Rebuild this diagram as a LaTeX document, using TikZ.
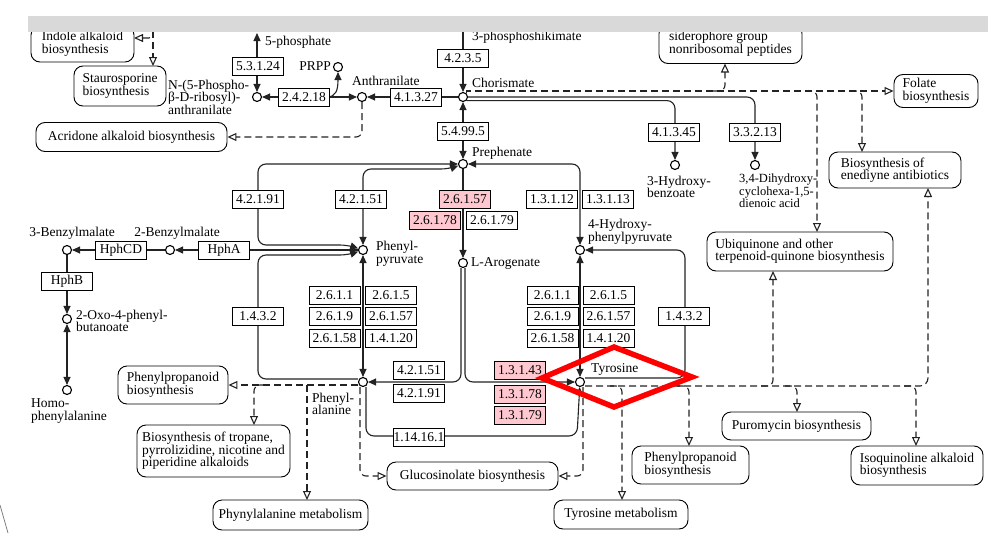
\documentclass[tikz,border=0pt]{standalone}
\usepackage{fontspec}
\setmainfont{Liberation Serif}
\usetikzlibrary{arrows.meta,calc}
\pgfdeclarelayer{bg}
\pgfdeclarelayer{fg}
\pgfsetlayers{bg,main,fg}
\definecolor{kpink}{RGB}{255,200,208}
\definecolor{kline}{RGB}{35,35,35}
\definecolor{kbar}{RGB}{217,217,217}
\newcommand\kfont{\fontsize{13.5}{12.5}\selectfont}
\tikzset{
  fa/.tip={Triangle[length=8pt,width=7pt]},
  oa/.tip={Triangle[length=9pt,width=8pt,fill=white]},
  every node/.style={font=\kfont},
  cpd/.style={circle,draw=black,fill=white,minimum size=9pt,inner sep=0pt,line width=1.1pt},
  enz/.style={draw=black,fill=white,minimum width=51pt,minimum height=18pt,inner sep=0pt,line width=0.9pt},
  enzp/.style={enz,fill=kpink},
  pw/.style={draw=black,fill=white,rounded corners=9pt,align=left,inner sep=0pt,line width=0.9pt},
  lbl/.style={inner sep=0pt,align=left,anchor=west},
  rx/.style={line width=1.1pt,draw=kline},
  dsh/.style={dash pattern=on 7pt off 4pt}
}
\begin{document}
\begin{tikzpicture}[x=1pt,y=-1pt]
\useasboundingbox (0,0) rectangle (988,533);

% ---------- compounds ----------
\node[cpd] (nprib) at (257,97) {};
\node[cpd] (prpp) at (338,67) {};
\node[cpd] (anth) at (362,97) {};
\node[cpd] (chor) at (463,97) {};
\node[cpd] (preph) at (463,164) {};
\node[cpd] (hbz) at (675,165) {};
\node[cpd] (dhc) at (755,165) {};
\node[cpd] (phepyr) at (363,250) {};
\node[cpd] (larog) at (463,263) {};
\node[cpd] (hpp) at (580,250) {};
\node[cpd] (phe) at (363,382) {};
\node[cpd] (tyr) at (580,382) {};
\node[cpd] (bzm2) at (170,250) {};
\node[cpd] (bzm3) at (67,250) {};
\node[cpd] (oxo) at (67,319) {};
\node[cpd] (homo) at (67,390) {};

% ---------- compound names ----------
\node[lbl] (l5p) at (265,42) {5-phosphate};
\node[lbl,anchor=east] (lprpp) at (331,66) {PRPP};
\node[lbl] (lanth) at (352,81) {Anthranilate};
\node[lbl] (lnprib) at (168,97) {N-(5-Phospho-\\β-D-ribosyl)-\\anthranilate};
\node[lbl] (lshik) at (472,37) {3-phosphoshikimate};
\node[lbl] (lchor) at (472,83) {Chorismate};
\node[lbl] (lpreph) at (472,153) {Prephenate};
\node[lbl] (lhbz) at (647,187) {3-Hydroxy-\\benzoate};
\node[lbl,font=\fontsize{12.5}{12.5}\selectfont] (ldhc) at (739,191) {3,4-Dihydroxy-\\cyclohexa-1,5-\\dienoic acid};
\node[lbl] (lphepyr) at (376,254) {Phenyl-\\pyruvate};
\node[lbl] (llarog) at (471,263) {L-Arogenate};
\node[lbl] (lhpp) at (588,232) {4-Hydroxy-\\phenylpyruvate};
\node[lbl,anchor=center] (lbzm3) at (72,233) {3-Benzylmalate};
\node[lbl,anchor=center] (lbzm2) at (177,233) {2-Benzylmalate};
\node[lbl] (loxo) at (76,321) {2-Oxo-4-phenyl-\\butanoate};
\node[lbl] (lhomo) at (31,411) {Homo-\\phenylalanine};
\node[lbl] (lphe) at (312,404) {Phenyl-\\alanine};
\node[lbl] (ltyr) at (591,369) {Tyrosine};

% ---------- enzymes ----------
\node[enz] (e53124) at (258,66) {5.3.1.24};
\node[enz] (e24218) at (304,97) {2.4.2.18};
\node[enz] (e41327) at (416,97) {4.1.3.27};
\node[enz] (e4235) at (463,58) {4.2.3.5};
\node[enz] (e54995) at (463,131) {5.4.99.5};
\node[enz] (e41345) at (674,132) {4.1.3.45};
\node[enz] (e33213) at (755,132) {3.3.2.13};
\node[enz] (e42191a) at (258,199) {4.2.1.91};
\node[enz] (e42151a) at (361,199) {4.2.1.51};
\node[enzp] (e26157) at (465,199) {2.6.1.57};
\node[enzp] (e26178) at (435,220) {2.6.1.78};
\node[enz] (e26179) at (492,220) {2.6.1.79};
\node[enz] (e13112) at (552,199) {1.3.1.12};
\node[enz] (e13113) at (608,199) {1.3.1.13};
\node[enz] (ehphA) at (224,250) {HphA};
\node[enz] (ehphCD) at (121,250) {HphCD};
\node[enz] (ehphB) at (67,281) {HphB};
\node[enz] (e1432a) at (258,316) {1.4.3.2};
\node[enz] (e1432b) at (684,316) {1.4.3.2};
% transaminases, phenylalanine side
\node[enz] (tl11) at (334.5,295) {2.6.1.1};
\node[enz] (tl12) at (391,295) {2.6.1.5};
\node[enz] (tl21) at (334.5,316.5) {2.6.1.9};
\node[enz] (tl22) at (391,316.5) {2.6.1.57};
\node[enz] (tl31) at (334.5,338) {2.6.1.58};
\node[enz] (tl32) at (391,338) {1.4.1.20};
% transaminases, tyrosine side
\node[enz] (tr11) at (552.5,295) {2.6.1.1};
\node[enz] (tr12) at (608.5,295) {2.6.1.5};
\node[enz] (tr21) at (552.5,316.5) {2.6.1.9};
\node[enz] (tr22) at (608.5,316.5) {2.6.1.57};
\node[enz] (tr31) at (552.5,338) {2.6.1.58};
\node[enz] (tr32) at (608.5,338) {1.4.1.20};
\node[enz] (e42151b) at (419,370) {4.2.1.51};
\node[enz] (e42191b) at (419,393) {4.2.1.91};
\node[enzp] (e13143) at (520,370) {1.3.1.43};
\node[enzp] (e13178) at (520,394) {1.3.1.78};
\node[enzp] (e13179) at (520,415) {1.3.1.79};
\node[enz] (e114161) at (419,437) {1.14.16.1};

% ---------- linked pathways ----------
\node[pw,minimum width=103pt,minimum height=36pt] (indole) at (82.5,44) {Indole alkaloid\\biosynthesis};
\node[pw,minimum width=92pt,minimum height=40pt] (stauro) at (120,86) {Staurosporine\\biosynthesis};
\node[pw,minimum width=191pt,minimum height=29pt] (acrid) at (131.5,137) {Acridone alkaloid biosynthesis};
\node[pw,minimum width=143pt,minimum height=39pt] (sidero) at (730.5,44) {siderophore group\\nonribosomal peptides};
\node[pw,minimum width=84pt,minimum height=33pt] (folate) at (936,91) {Folate\\biosynthesis};
\node[pw,minimum width=132pt,minimum height=36pt] (enediyne) at (895,170) {Biosynthesis of\\enediyne antibiotics};
\node[pw,minimum width=186pt,minimum height=39pt] (ubiq) at (800,251.5) {Ubiquinone and other\\terpenoid-quinone biosynthesis};
\node[pw,minimum width=110pt,minimum height=38pt] (ppl) at (173,385) {Phenylpropanoid\\biosynthesis};
\node[pw,minimum width=153pt,minimum height=52pt] (tropane) at (213.5,451) {Biosynthesis of tropane,\\pyrrolizidine, nicotine and\\piperidine alkaloids};
\node[pw,minimum width=155pt,minimum height=30pt] (phemet) at (290.5,515) {Phynylalanine metabolism};
\node[pw,minimum width=171pt,minimum height=28pt] (glucos) at (472.5,476) {Glucosinolate biosynthesis};
\node[pw,minimum width=134pt,minimum height=29pt] (tyrmet) at (621,514.5) {Tyrosine metabolism};
\node[pw,minimum width=117pt,minimum height=38pt] (ppr) at (690.5,465) {Phenylpropanoid\\biosynthesis};
\node[pw,minimum width=149pt,minimum height=28pt] (puro) at (796.5,426) {Puromycin biosynthesis};
\node[pw,minimum width=132pt,minimum height=39pt] (isoq) at (917,465.5) {Isoquinoline alkaloid\\biosynthesis};

% ---------- free ends of connectors ----------
\coordinate (tip5p) at (257,33);
\coordinate (shiktop) at (463,20);
\coordinate (sidtip) at (725,63.5);
\coordinate (ubtip) at (817,232);
\coordinate (enetip) at (862,152);
\coordinate (enebot) at (928,188);
\coordinate (ubbot) at (773,271);
\coordinate (dashtop) at (153,20);
\coordinate (stautip) at (153,66);
\coordinate (indtip) at (134,38);
\coordinate (trotip) at (254,425);
\coordinate (pmtip) at (307,500);
\coordinate (tmtip) at (622,500);
\coordinate (pprtip) at (689,446);
\coordinate (purotip) at (797,412);
\coordinate (isoqtip) at (916,446);

% ---------- reactions ----------
\begin{pgfonlayer}{bg}
\draw[rx,fa-fa] (tip5p) -- (nprib);
\draw[rx,fa-fa] (nprib) -- (anth);
\draw[rx,-fa] (327,97) .. controls (336,97) and (338,90) .. (prpp);
\draw[rx,-fa] (chor) -- (anth);
\draw[rx,-fa] (shiktop) -- (chor);
\draw[rx,fa-fa] (chor) -- (preph);
\draw[rx,-fa,rounded corners=8pt] (chor.east) -| (dhc);
\draw[rx,-fa,rounded corners=8pt] (chor.south east) -| (hbz);
\draw[rx,dsh,-oa] (chor.north east) |- (folate.west);
\draw[rx,dsh,-oa,rounded corners=6pt] (713,91) -| (sidtip);
\draw[rx,dsh,-oa,rounded corners=6pt] (805,91) -| (ubtip);
\draw[rx,dsh,-oa,rounded corners=6pt] (850,91) -| (enetip);
\draw[rx,dsh,-oa,rounded corners=6pt] (anth) -- (362,137) -- (acrid.east);
\draw[rx,dsh,-oa] (dashtop) -- (stautip);
\draw[rx,dsh,-oa,rounded corners=4pt] (153,28) |- (indtip);

% prephenate branches
\draw[rx,fa-fa,rounded corners=8pt] (preph) -- (258,164) -- (258,245) -- (348,245) -- (phepyr);
\draw[rx,fa-fa,rounded corners=8pt] (preph) -- (449,169) -- (363,169) -- (phepyr);
\draw[rx,-fa] (preph) -- (larog);
\draw[rx,fa-fa,rounded corners=8pt] (preph) -- (580,164) -- (hpp);

% homophenylalanine branch
\draw[rx,-fa] (phepyr) -- (bzm2);
\draw[rx,-fa] (bzm2) -- (bzm3);
\draw[rx,-fa] (bzm3) -- (oxo);
\draw[rx,fa-fa] (oxo) -- (homo);

% transaminations
\draw[rx,fa-fa] (phepyr) -- (phe);
\draw[rx,fa-fa] (hpp) -- (tyr);

% 1.4.3.2
\draw[rx,-fa,rounded corners=8pt] ($(phe.west)+(0,-3)$) -- (258,379) -- (258,255) -- (348,255) -- (phepyr);
\draw[rx,-fa,rounded corners=8pt] ($(tyr.east)+(0,-4)$) -- (685,378) -- (685,250) -- (hpp);

% arogenate routes
\draw[rx,-fa,rounded corners=8pt] ($(larog.south)+(-2,0)$) -- (461,382) -- (phe);
\draw[rx,-fa,rounded corners=8pt] ($(larog.south)+(2,0)$) -- (465,382) -- (tyr);

% 1.14.16.1
\draw[rx,-fa,rounded corners=8pt] ($(phe.south)+(3,0)$) -- (366,436) -- (577,436) -- (tyr);

% links out of phenylalanine
\draw[rx,dsh,-oa] ($(phe.west)+(0,3)$) -- (ppl.east);
\draw[rx,dsh,-oa,rounded corners=6pt] (266,385) -| (trotip);
\draw[rx,dsh,-oa] (307,385) -- (pmtip);
\draw[rx,dsh,-oa,rounded corners=6pt] ($(phe.south)+(-3,0)$) -- (360,476) -- (glucos.west);

% links out of tyrosine
\draw[rx,dsh,-oa,rounded corners=6pt] ($(tyr.south)+(3,0)$) -- (583,476) -- (glucos.east);
\draw[rx,dsh,-oa,rounded corners=8pt] ($(tyr.east)+(0,4)$) -| (enebot);
\draw[rx,dsh,-oa,rounded corners=6pt] (610,386) -| (tmtip);
\draw[rx,dsh,-oa,rounded corners=6pt] (677,386) -| (pprtip);
\draw[rx,dsh,-oa,rounded corners=6pt] (761,386) -| (ubbot);
\draw[rx,dsh,-oa,rounded corners=6pt] (785,386) -| (purotip);
\draw[rx,dsh,-oa,rounded corners=6pt] (904,386) -| (isoqtip);
\end{pgfonlayer}

% ---------- header bar and highlight ----------
\begin{pgfonlayer}{fg}
\fill[white] (0,0) rectangle (988,32);
\fill[kbar] (28,16) rectangle (988,32);
\draw[red,line width=5.5pt,line join=miter,miter limit=10]
  (542,378) -- (614,347) -- (692,377) -- (614,407) -- cycle;
\draw[gray,line width=0.8pt] (0,505) -- (8,533);
\end{pgfonlayer}
\end{tikzpicture}
\end{document}
